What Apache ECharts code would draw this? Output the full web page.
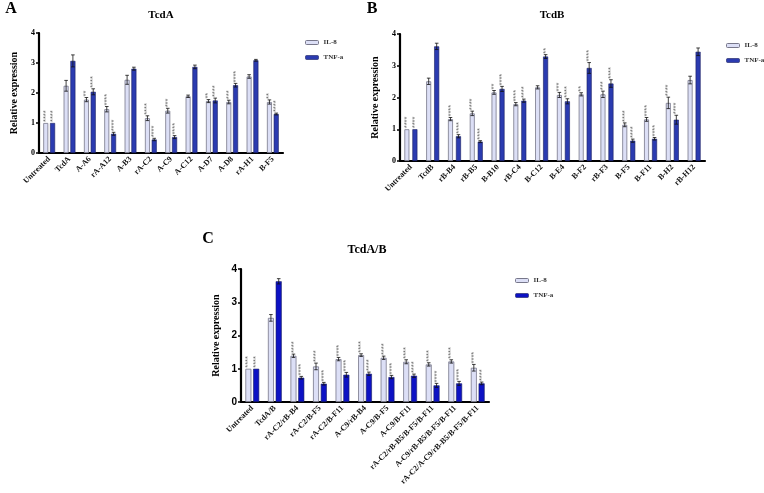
<!DOCTYPE html>
<html><head><meta charset="utf-8">
<script src="https://cdn.jsdelivr.net/npm/echarts@6/dist/echarts.min.js"></script>
<style>html,body{margin:0;padding:0;background:#fff}#c{width:764px;height:493px}</style>
</head><body><div id="c"></div>
<script>
// ---- Panel A: TcdA ----
const catsA = ['Untreated','TcdA','A-A6','rA-A12','A-B3','rA-C2','A-C9','A-C12','A-D7','A-D8','rA-H1','B-F5'];
const il8A  = [1.0,2.24,1.78,1.46,2.44,1.16,1.41,1.89,1.73,1.70,2.55,1.70];
const tnfA  = [1.0,3.07,2.04,0.64,2.81,0.45,0.53,2.87,1.75,2.26,3.09,1.30];
const il8ErrA = [0,0.18,0.07,0.09,0.15,0.08,0.08,0.04,0.05,0.06,0.06,0.07];
const tnfErrA = [0,0.2,0.1,0.05,0.05,0.04,0.05,0.06,0.08,0.06,0.03,0.03];
const il8StarA = [4,0,2,4,0,4,3,0,2,3,0,2];
const tnfStarA = [4,0,4,4,0,4,4,0,4,4,0,4];
// ---- Panel B: TcdB ----
const catsB = ['Untreated','TcdB','rB-B4','rB-B5','B-B10','rB-C4','B-C12','B-E4','B-F2','rB-F3','B-F5','B-F11','B-H2','rB-H12'];
const il8B  = [1.0,2.51,1.32,1.50,2.16,1.79,2.32,2.08,2.10,2.10,1.14,1.31,1.83,2.55];
const tnfB  = [1.0,3.61,0.78,0.61,2.27,1.90,3.29,1.88,2.93,2.44,0.64,0.70,1.30,3.44];
const il8ErrB = [0,0.1,0.05,0.07,0.06,0.05,0.05,0.08,0.05,0.1,0.06,0.06,0.18,0.12];
const tnfErrB = [0,0.1,0.05,0.03,0.08,0.05,0.06,0.08,0.17,0.12,0.05,0.04,0.14,0.12];
const il8StarB = [4,0,4,4,2,4,0,3,2,3,4,4,4,0];
const tnfStarB = [4,0,4,4,4,4,2,4,4,4,4,4,4,0];
// ---- Panel C: TcdA/B ----
const catsC = ['Untreated','TcdA/B','rA-C2/rB-B4','rA-C2/B-F5','rA-C2/B-F11','A-C9/rB-B4','A-C9/B-F5','A-C9/B-F11','rA-C2/rB-B5/B-F5/B-F11','A-C9/rB-B5/B-F5/B-F11','rA-C2/A-C9/rB-B5/B-F5/B-F11'];
const il8C  = [1.0,2.53,1.39,1.07,1.29,1.41,1.33,1.21,1.13,1.22,1.03];
const tnfC  = [1.0,3.63,0.73,0.55,0.82,0.85,0.75,0.79,0.50,0.56,0.56];
const il8ErrC = [0,0.1,0.05,0.1,0.05,0.04,0.05,0.06,0.05,0.05,0.1];
const tnfErrC = [0,0.08,0.04,0.04,0.07,0.05,0.05,0.05,0.06,0.06,0.04];
const il8StarC = [4,0,4,4,4,4,4,4,4,4,4];
const tnfStarC = [4,0,4,4,4,4,4,4,4,4,4];

const yTicks = [0,1,2,3,4];
const legendNames = ['IL-8','TNF-a'];

const SERIF = 'Liberation Serif';
const SANS = 'Liberation Sans';
const IL8_COLOR = '#dcdff6';
const IL8_BORDER = '#77778a';
const TNF_AB = '#2b3bb0';
const TNF_C = '#0d12c4';

const panels = [
  {cats: catsA, il8: il8A, tnf: tnfA, e1: il8ErrA, e2: tnfErrA, s1: il8StarA, s2: tnfStarA,
   grid: {left: 39, top: 33, width: 244, height: 120}, bw: 5, gap: 1.8, tnfColor: TNF_AB, tickFont: SERIF, nameGap: 20},
  {cats: catsB, il8: il8B, tnf: tnfB, e1: il8ErrB, e2: tnfErrB, s1: il8StarB, s2: tnfStarB,
   grid: {left: 400, top: 34, width: 305, height: 127}, bw: 5, gap: 3, tnfColor: TNF_AB, tickFont: SERIF, nameGap: 20},
  {cats: catsC, il8: il8C, tnf: tnfC, e1: il8ErrC, e2: tnfErrC, s1: il8StarC, s2: tnfStarC,
   grid: {left: 241, top: 269, width: 248, height: 133}, bw: 6, gap: 1.8, tnfColor: TNF_C, tickFont: SANS, nameGap: 20}
];

const grids = [], xAxes = [], yAxes = [], series = [];
panels.forEach((p, i) => {
  grids.push(Object.assign({containLabel: false}, p.grid));
  xAxes.push({
    type: 'category', gridIndex: i, data: p.cats,
    axisLine: {lineStyle: {color: '#000', width: 2.2}},
    axisTick: {alignWithLabel: true, length: 3, lineStyle: {color: '#000', width: 1.5}},
    axisLabel: {rotate: 45, interval: 0, fontFamily: SERIF, fontWeight: 'bold', fontSize: 8, color: '#111', margin: 5}
  });
  yAxes.push({
    type: 'value', gridIndex: i, min: yTicks[0], max: yTicks[yTicks.length-1], interval: 1,
    name: 'Relative expression', nameLocation: 'middle', nameRotate: 90, nameGap: p.nameGap,
    nameTextStyle: {fontFamily: SERIF, fontWeight: 'bold', fontSize: 10, color: '#000'},
    axisLine: {show: true, lineStyle: {color: '#000', width: 2.2}},
    axisTick: {show: true, length: 3, lineStyle: {color: '#000', width: 1.5}},
    axisLabel: {fontFamily: p.tickFont, fontWeight: 'bold', fontSize: i === 2 ? 10 : 8, color: '#000', margin: 4},
    splitLine: {show: false}
  });
  const gapPct = (p.gap / p.bw * 100) + '%';
  series.push({
    name: 'IL-8', type: 'bar', xAxisIndex: i, yAxisIndex: i, data: p.il8, barWidth: p.bw, barGap: gapPct,
    itemStyle: {color: IL8_COLOR, borderColor: IL8_BORDER, borderWidth: 0.8}, z: 2
  });
  series.push({
    name: 'TNF-a', type: 'bar', xAxisIndex: i, yAxisIndex: i, data: p.tnf, barWidth: p.bw,
    itemStyle: {color: p.tnfColor, borderColor: '#1a1f60', borderWidth: 0.6}, z: 2
  });
  const off = (p.bw + p.gap) / 2;
  const errData = [];
  p.cats.forEach((c, k) => {
    errData.push([k, p.il8[k], p.e1[k], -off, p.s1[k]]);
    errData.push([k, p.tnf[k], p.e2[k], off, p.s2[k]]);
  });
  series.push({
    type: 'custom', xAxisIndex: i, yAxisIndex: i, data: errData, z: 5, silent: true,
    renderItem: function (params, api) {
      const k = api.value(0), v = api.value(1), e = api.value(2), dx = api.value(3), stars = api.value(4);
      const base = api.coord([k, v]);
      const top = api.coord([k, v + e]);
      const bot = api.coord([k, v - e]);
      const x = base[0] + dx;
      const children = [];
      if (e > 0) {
        children.push({type: 'line', shape: {x1: x, y1: top[1], x2: x, y2: bot[1]}, style: {stroke: '#111', lineWidth: 0.8}});
        children.push({type: 'line', shape: {x1: x - 1.8, y1: top[1], x2: x + 1.8, y2: top[1]}, style: {stroke: '#111', lineWidth: 0.8}});
        children.push({type: 'line', shape: {x1: x - 1.8, y1: bot[1], x2: x + 1.8, y2: bot[1]}, style: {stroke: '#111', lineWidth: 0.8}});
      }
      if (stars > 0) {
        children.push({type: 'text', x: x, y: top[1] - 1, rotation: Math.PI / 2,
          style: {text: '*'.repeat(stars), fontSize: 7.5, fill: '#666', align: 'left', verticalAlign: 'middle', fontFamily: SANS}});
      }
      return {type: 'group', children: children};
    }
  });
});

const legendStyle = {fontFamily: SERIF, fontWeight: 'bold', fontSize: 7, color: '#333'};
const legends = [
  {left: 300, top: 34, tnf: TNF_AB},
  {left: 721, top: 37, tnf: TNF_AB},
  {left: 510, top: 272, tnf: TNF_C}
].map(l => ({
  orient: 'vertical', left: l.left, top: l.top, itemWidth: 13, itemHeight: 4, itemGap: 8,
  textStyle: legendStyle, selectedMode: false,
  data: [
    {name: legendNames[0], itemStyle: {color: IL8_COLOR, borderColor: IL8_BORDER, borderWidth: 1}},
    {name: legendNames[1], itemStyle: {color: l.tnf, borderColor: '#1a1f60', borderWidth: 0.6}}
  ]
}));

const txt = (t, x, y, size) => ({type: 'text', x: x, y: y,
  style: {text: t, fontFamily: SERIF, fontWeight: 'bold', fontSize: size, fill: '#000', align: 'center', verticalAlign: 'middle'}});

const chart = echarts.init(document.getElementById('c'), null, {renderer: 'canvas'});
chart.setOption({
  animation: false,
  backgroundColor: '#fff',
  grid: grids, xAxis: xAxes, yAxis: yAxes, series: series, legend: legends,
  graphic: [
    txt('A', 11, 9, 16), txt('B', 372, 9, 16), txt('C', 208, 239, 16),
    txt('TcdA', 161, 15, 11), txt('TcdB', 552, 15, 11), txt('TcdA/B', 367, 250, 12)
  ]
});
</script></body></html>
